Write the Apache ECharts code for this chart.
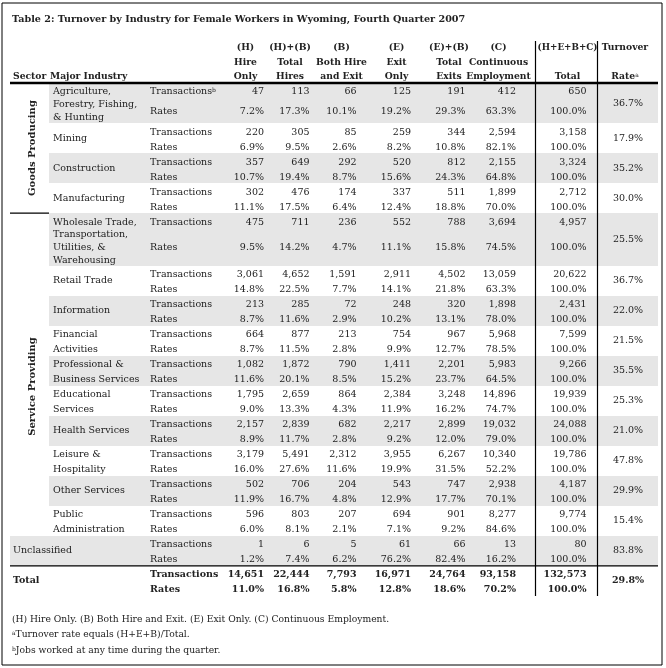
<!DOCTYPE html>
<html><head><meta charset="utf-8">
<script src="https://cdn.jsdelivr.net/npm/echarts@6/dist/echarts.min.js"></script>
<style>html,body{margin:0;padding:0;background:#fff}#c{width:666px;height:668px}</style>
</head><body><div id="c"></div>
<script>
// ---------- content ----------
const titleText = 'Table 2: Turnover by Industry for Female Workers in Wyoming, Fourth Quarter 2007';
const headCodes = ['(H)', '(H)+(B)', '(B)', '(E)', '(E)+(B)', '(C)', '(H+E+B+C)', 'Turnover'];
const headLine2 = ['Hire', 'Total', 'Both Hire', 'Exit', 'Total', 'Continuous', '', ''];
const headLine3 = ['Only', 'Hires', 'and Exit', 'Only', 'Exits', 'Employment', 'Total', 'Rate{sup|a}'];
const stubHeads = ['Sector', 'Major Industry'];
const sectors = ['Goods Producing', 'Service Providing'];
const industries = [
  'Agriculture,\nForestry, Fishing,\n& Hunting', 'Mining', 'Construction', 'Manufacturing',
  'Wholesale Trade,\nTransportation,\nUtilities, &\nWarehousing', 'Retail Trade', 'Information',
  'Financial\nActivities', 'Professional &\nBusiness Services', 'Educational\nServices',
  'Health Services', 'Leisure &\nHospitality', 'Other Services', 'Public\nAdministration', 'Unclassified'
];
const industrySector = [0, 0, 0, 0, 1, 1, 1, 1, 1, 1, 1, 1, 1, 1, null];
const rowTypes = ['Transactions', 'Rates'];

const hireOnlyTx      = [47, 220, 357, 302, 475, 3061, 213, 664, 1082, 1795, 2157, 3179, 502, 596, 1];
const hireOnlyRate    = [7.2, 6.9, 10.7, 11.1, 9.5, 14.8, 8.7, 8.7, 11.6, 9.0, 8.9, 16.0, 11.9, 6.0, 1.2];
const totalHiresTx    = [113, 305, 649, 476, 711, 4652, 285, 877, 1872, 2659, 2839, 5491, 706, 803, 6];
const totalHiresRate  = [17.3, 9.5, 19.4, 17.5, 14.2, 22.5, 11.6, 11.5, 20.1, 13.3, 11.7, 27.6, 16.7, 8.1, 7.4];
const bothTx          = [66, 85, 292, 174, 236, 1591, 72, 213, 790, 864, 682, 2312, 204, 207, 5];
const bothRate        = [10.1, 2.6, 8.7, 6.4, 4.7, 7.7, 2.9, 2.8, 8.5, 4.3, 2.8, 11.6, 4.8, 2.1, 6.2];
const exitOnlyTx      = [125, 259, 520, 337, 552, 2911, 248, 754, 1411, 2384, 2217, 3955, 543, 694, 61];
const exitOnlyRate    = [19.2, 8.2, 15.6, 12.4, 11.1, 14.1, 10.2, 9.9, 15.2, 11.9, 9.2, 19.9, 12.9, 7.1, 76.2];
const totalExitsTx    = [191, 344, 812, 511, 788, 4502, 320, 967, 2201, 3248, 2899, 6267, 747, 901, 66];
const totalExitsRate  = [29.3, 10.8, 24.3, 18.8, 15.8, 21.8, 13.1, 12.7, 23.7, 16.2, 12.0, 31.5, 17.7, 9.2, 82.4];
const continuousTx    = [412, 2594, 2155, 1899, 3694, 13059, 1898, 5968, 5983, 14896, 19032, 10340, 2938, 8277, 13];
const continuousRate  = [63.3, 82.1, 64.8, 70.0, 74.5, 63.3, 78.0, 78.5, 64.5, 74.7, 79.0, 52.2, 70.1, 84.6, 16.2];
const grandTx         = [650, 3158, 3324, 2712, 4957, 20622, 2431, 7599, 9266, 19939, 24088, 19786, 4187, 9774, 80];
const grandRate       = [100.0, 100.0, 100.0, 100.0, 100.0, 100.0, 100.0, 100.0, 100.0, 100.0, 100.0, 100.0, 100.0, 100.0, 100.0];
const turnoverRate    = [36.7, 17.9, 35.2, 30.0, 25.5, 36.7, 22.0, 21.5, 35.5, 25.3, 21.0, 47.8, 29.9, 15.4, 83.8];

const totalLabel = 'Total';
const totalRowTx   = [14651, 22444, 7793, 16971, 24764, 93158, 132573];
const totalRowRate = [11.0, 16.8, 5.8, 12.8, 18.6, 70.2, 100.0];
const totalTurnover = 29.8;

const footnotes = [
  '(H) Hire Only. (B) Both Hire and Exit. (E) Exit Only. (C) Continuous Employment.',
  '{sup|a}Turnover rate equals (H+E+B)/Total.',
  '{sup|b}Jobs worked at any time during the quarter.'
];

// ---------- layout / style ----------
const layout = {
  font: "'DejaVu Serif', serif",
  size: 9.5, headSize: 9.2, codeSizeWide: 8.8, titleSize: 9.6, footSize: 9.2, sectorSize: 10,
  color: '#222', band: '#e6e6e6',
  border: [2, 3, 662, 665],
  titleX: 12, titleY: 19,
  tableLeft: 10, tableRight: 658, bandLeft: 49,
  sectorX: 32, industryX: 53, typeX: 150, stubX: [13, 50],
  sectorShift: [0, 12],
  colRight: [264, 309.5, 356.5, 411, 465.5, 516, 586.5],
  headCenter: [245.5, 290, 341.5, 396.5, 449, 498.5, 567.5, 625],
  rateX: 628,
  headY: [48, 63, 77],
  ruleY: 83, vLines: [535.5, 597.5], vTop: 41,
  blockBase: 30, labelLine: 12.7, txOffset: 9,
  footX: 12, footY: [620, 635, 651]
};

const txCols = [hireOnlyTx, totalHiresTx, bothTx, exitOnlyTx, totalExitsTx, continuousTx, grandTx];
const rateCols = [hireOnlyRate, totalHiresRate, bothRate, exitOnlyRate, totalExitsRate, continuousRate, grandRate];
const fmtTx = v => v.toLocaleString('en-US');
const fmtRate = v => v.toFixed(1) + '%';

// build block geometry from label line counts
let yCur = layout.ruleY;
const blocks = industries.map(name => {
  const lines = name.split('\n').length;
  const h = Math.max(layout.blockBase, lines * layout.labelLine + 2);
  const b = { top: yCur, h, lines };
  yCur += h;
  return b;
});
const totalTop = yCur;
const tableBottom = totalTop + layout.blockBase;

const texts = [];
const T = (x, y, text, o = {}) => texts.push(Object.assign({ x, y, text, align: 'left', bold: false, size: layout.size }, o));
const rects = [];
const lines = [];

// title
T(layout.titleX, layout.titleY, titleText, { bold: true, size: layout.titleSize });
// headers
T(layout.stubX[0], layout.headY[2], stubHeads[0], { bold: true, size: layout.headSize });
T(layout.stubX[1], layout.headY[2], stubHeads[1], { bold: true, size: layout.headSize });
headCodes.forEach((h, i) => {
  const x = layout.headCenter[i];
  const sz = h.length > 8 ? layout.codeSizeWide : layout.headSize;
  T(x, layout.headY[0], h, { bold: true, align: 'center', size: sz });
  if (headLine2[i]) T(x, layout.headY[1], headLine2[i], { bold: true, align: 'center', size: layout.headSize });
  T(x, layout.headY[2], headLine3[i], { bold: true, align: 'center', size: layout.headSize });
});

// body
industries.forEach((name, i) => {
  const b = blocks[i];
  const yT = b.top + layout.txOffset;
  const yR = yT + Math.max(15, 5 * (b.lines + 1));
  const unc = industrySector[i] === null;
  if (i % 2 === 0) rects.push({ x1: unc ? layout.tableLeft : layout.bandLeft, y1: b.top, x2: layout.tableRight, y2: b.top + b.h });
  const parts = name.split('\n');
  const lx = unc ? layout.stubX[0] : layout.industryX;
  if (parts.length === 1) T(lx, b.top + b.h / 2, parts[0]);
  else if (parts.length === 2) { T(lx, yT, parts[0]); T(lx, yR, parts[1]); }
  else parts.forEach((p, k) => T(lx, yT + k * layout.labelLine, p));
  T(layout.typeX, yT, i === 0 ? rowTypes[0] + '{sup|b}' : rowTypes[0]);
  T(layout.typeX, yR, rowTypes[1]);
  txCols.forEach((col, c) => T(layout.colRight[c], yT, fmtTx(col[i]), { align: 'right' }));
  rateCols.forEach((col, c) => T(layout.colRight[c], yR, fmtRate(col[i]), { align: 'right' }));
  T(layout.rateX, b.top + b.h / 2, fmtRate(turnoverRate[i]), { align: 'center' });
});

// sector labels (vertical) and separator
sectors.forEach((s, si) => {
  const idx = industrySector.map((v, k) => v === si ? k : -1).filter(k => k >= 0);
  const top = blocks[idx[0]].top;
  const last = blocks[idx[idx.length - 1]];
  const bottom = last.top + last.h;
  T(layout.sectorX, (top + bottom) / 2 + layout.sectorShift[si], s, { bold: true, align: 'center', rot: Math.PI / 2, size: layout.sectorSize });
  if (si > 0) lines.push({ x1: layout.tableLeft, y1: top, x2: layout.bandLeft, y2: top, w: 1.2 });
});

// total
{
  const yT = totalTop + layout.txOffset;
  const yR = yT + 15;
  T(layout.stubX[0], totalTop + layout.blockBase / 2, totalLabel, { bold: true });
  T(layout.typeX, yT, rowTypes[0], { bold: true });
  T(layout.typeX, yR, rowTypes[1], { bold: true });
  totalRowTx.forEach((v, c) => T(layout.colRight[c], yT, fmtTx(v), { align: 'right', bold: true }));
  totalRowRate.forEach((v, c) => T(layout.colRight[c], yR, fmtRate(v), { align: 'right', bold: true }));
  T(layout.rateX, totalTop + layout.blockBase / 2, fmtRate(totalTurnover), { align: 'center', bold: true });
  lines.push({ x1: layout.tableLeft, y1: totalTop, x2: layout.tableRight, y2: totalTop, w: 1.3 });
}

// footnotes
footnotes.forEach((f, k) => T(layout.footX, layout.footY[k], f, { size: layout.footSize }));

// rules
lines.push({ x1: layout.tableLeft, y1: layout.ruleY, x2: layout.tableRight, y2: layout.ruleY, w: 2.4 });
layout.vLines.forEach(x => lines.push({ x1: x, y1: layout.vTop, x2: x, y2: tableBottom, w: 1.2 }));
const bd = layout.border;
lines.push({ x1: bd[0], y1: bd[1], x2: bd[2], y2: bd[1], w: 1 });
lines.push({ x1: bd[0], y1: bd[3], x2: bd[2], y2: bd[3], w: 1 });
lines.push({ x1: bd[0], y1: bd[1], x2: bd[0], y2: bd[3], w: 1 });
lines.push({ x1: bd[2], y1: bd[1], x2: bd[2], y2: bd[3], w: 1 });

// ---------- chart ----------
const chart = echarts.init(document.getElementById('c'), null, { renderer: 'canvas' });
chart.setOption({
  animation: false,
  backgroundColor: '#fff',
  grid: { left: 0, right: 0, top: 0, bottom: 0 },
  xAxis: { type: 'value', min: 0, max: 666, show: false },
  yAxis: { type: 'value', min: 0, max: 668, inverse: true, show: false },
  series: [
    {
      type: 'custom', silent: true, z: 1,
      data: rects.map(r => [r.x1, r.y1, r.x2, r.y2]),
      renderItem: (p, api) => {
        const a = api.coord([api.value(0), api.value(1)]);
        const b = api.coord([api.value(2), api.value(3)]);
        return { type: 'rect', shape: { x: a[0], y: a[1], width: b[0] - a[0], height: b[1] - a[1] }, style: { fill: layout.band } };
      }
    },
    {
      type: 'custom', silent: true, z: 2,
      data: lines.map(l => [l.x1, l.y1, l.x2, l.y2, l.w]),
      renderItem: (p, api) => {
        const a = api.coord([api.value(0), api.value(1)]);
        const b = api.coord([api.value(2), api.value(3)]);
        return { type: 'line', shape: { x1: a[0], y1: a[1], x2: b[0], y2: b[1] }, style: { stroke: '#000', lineWidth: api.value(4) } };
      }
    },
    {
      type: 'custom', silent: true, z: 3,
      data: texts.map(t => [t.x, t.y]),
      renderItem: (p, api) => {
        const t = texts[p.dataIndex];
        const pt = api.coord([api.value(0), api.value(1)]);
        const w = t.bold ? 'bold' : 'normal';
        return {
          type: 'text', x: pt[0], y: pt[1], rotation: t.rot || 0,
          style: {
            text: t.text, fill: layout.color,
            fontFamily: layout.font, fontSize: t.size, fontWeight: w,
            align: t.align, verticalAlign: 'middle',
            textAlign: t.align, textVerticalAlign: 'middle',
            rich: { sup: { fontFamily: layout.font, fontSize: Math.round(t.size * 0.62), fontWeight: 'normal', verticalAlign: 'top', fill: layout.color } }
          }
        };
      }
    }
  ]
});
</script></body></html>
